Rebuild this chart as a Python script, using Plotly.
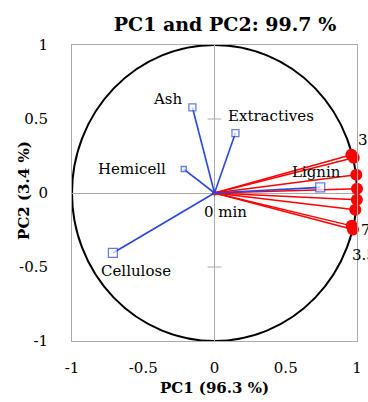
import plotly.graph_objects as go

# Loadings of the composition variables (blue vectors)
var_names = ["Ash", "Extractives", "Hemicell", "Cellulose", "Lignin"]
var_pc1 = [-0.155, 0.147, -0.216, -0.713, 0.742]
var_pc2 = [0.578, 0.405, 0.162, -0.405, 0.038]

# Scores of the pretreatment times (red vectors)
time_labels = ["30 min", "", "", "", "", "", "7 min", "3.5 min"]
time_pc1 = [0.961, 0.977, 0.995, 1.0, 0.999, 0.988, 0.963, 0.972]
time_pc2 = [0.259, 0.238, 0.124, 0.028, -0.045, -0.113, -0.222, -0.247]
origin_label = "0 min"

axis_ticks = [-1, -0.5, 0, 0.5, 1]
axis_ticktext = ["-1", "-0.5", "0", "0.5", "1"]

title_text = "PC1 and PC2: 99.7 %"
x_title = "PC1 (96.3 %)"
y_title = "PC2 (3.4 %)"

BLUE = "rgb(40,70,225)"
RED = "rgb(255,0,0)"
GRAY = "rgb(170,170,170)"
SERIF = "DejaVu Serif"

# marker sizes for the open squares of each variable
var_marker_size = {"Ash": 7, "Extractives": 7, "Hemicell": 5, "Cellulose": 9, "Lignin": 9}
# label placement (xanchor, yanchor, xshift, yshift) relative to each point
var_label_pos = {
    "Ash": ("right", "middle", -7, 8),
    "Extractives": ("left", "bottom", -9, 6),
    "Hemicell": ("right", "middle", -16, 0),
    "Cellulose": ("left", "top", -14, -7),
    "Lignin": ("center", "bottom", -4, 4),
}
time_label_pos = {
    0: ("left", "middle", 5, 15),
    6: ("left", "middle", 7, -4),
    7: ("left", "top", -3, -14),
}


def spokes(xs, ys):
    lx, ly = [], []
    for x, y in zip(xs, ys):
        lx += [0, x, None]
        ly += [0, y, None]
    return lx, ly


fig = go.Figure()

# unit correlation circle
fig.add_shape(type="circle", xref="x", yref="y", x0=-1, y0=-1, x1=1, y1=1,
              line=dict(color="black", width=2), layer="below")

# cross tick marks on the vertical zero line
for t in [0.5, -0.5]:
    fig.add_shape(type="line", xref="x", yref="y", xsizemode="pixel", xanchor=0,
                  x0=-7, x1=7, y0=t, y1=t, line=dict(color=GRAY, width=1), layer="below")

rx, ry = spokes(time_pc1, time_pc2)
fig.add_trace(go.Scatter(x=rx, y=ry, mode="lines", line=dict(color=RED, width=1.5),
                         hoverinfo="skip", showlegend=False, cliponaxis=False))
fig.add_trace(go.Scatter(x=time_pc1, y=time_pc2, mode="markers",
                         marker=dict(color=RED, size=12, symbol="circle"),
                         showlegend=False, cliponaxis=False))
fig.add_trace(go.Scatter(x=[0], y=[0], mode="markers",
                         marker=dict(color=RED, size=5), showlegend=False))

bx, by = spokes(var_pc1, var_pc2)
fig.add_trace(go.Scatter(x=bx, y=by, mode="lines", line=dict(color=BLUE, width=1.6),
                         hoverinfo="skip", showlegend=False))
fig.add_trace(go.Scatter(x=var_pc1, y=var_pc2, mode="markers",
                         marker=dict(color="white", size=[var_marker_size[n] for n in var_names],
                                     symbol="square", line=dict(color=BLUE, width=1.3)),
                         showlegend=False))

label_font = dict(family=SERIF, size=15, color="black")
for n, x, y in zip(var_names, var_pc1, var_pc2):
    xa, ya, xs, ys = var_label_pos[n]
    fig.add_annotation(x=x, y=y, text=n, showarrow=False, xanchor=xa, yanchor=ya,
                       xshift=xs, yshift=ys, font=label_font)
for i, (lab, x, y) in enumerate(zip(time_labels, time_pc1, time_pc2)):
    if lab and i in time_label_pos:
        xa, ya, xs, ys = time_label_pos[i]
        fig.add_annotation(x=x, y=y, text=lab, showarrow=False, xanchor=xa, yanchor=ya,
                           xshift=xs, yshift=ys, font=label_font)
fig.add_annotation(x=0, y=0, text=origin_label, showarrow=False, xanchor="left",
                   yanchor="middle", xshift=-13, yshift=-19, font=label_font)

# vertical axis title, placed beside the tick labels
fig.add_annotation(xref="paper", yref="paper", x=-49 / 290, y=0.51, text=y_title,
                   textangle=-90, showarrow=False, xanchor="center", yanchor="middle",
                   font=dict(family=SERIF, size=15, color="black", weight="bold"))

axis_common = dict(range=[-1, 1], tickvals=axis_ticks, ticktext=axis_ticktext,
                   showgrid=False, zeroline=True, zerolinecolor=GRAY, zerolinewidth=1,
                   showline=True, mirror=True, linecolor=GRAY, linewidth=1,
                   ticks="", tickfont=dict(family=SERIF, size=15, color="black"))

fig.update_layout(
    width=368, height=402,
    margin=dict(l=72, r=6, t=45, b=61),
    paper_bgcolor="white", plot_bgcolor="white",
    title=dict(text=title_text, x=225 / 368, xanchor="center", xref="container",
               y=1 - 24 / 402, yanchor="middle", yref="container",
               font=dict(family=SERIF, size=19, color="black", weight="bold")),
    xaxis=dict(**axis_common, ticklabelstandoff=13,
               title=dict(text=x_title, standoff=6,
                          font=dict(family=SERIF, size=15, color="black", weight="bold"))),
    yaxis=dict(**axis_common, ticklabelstandoff=20),
)

fig.write_html("out.html")
